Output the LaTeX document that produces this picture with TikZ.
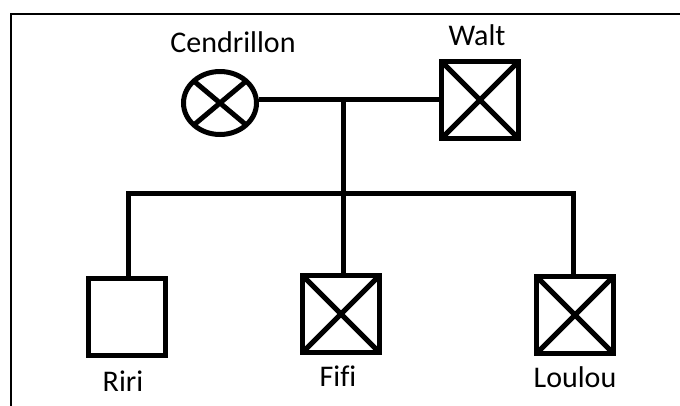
\documentclass[tikz,border=0pt]{standalone}
\usepackage{fontspec}
\setmainfont{Carlito}
\usetikzlibrary{shapes.geometric,calc}
\begin{document}
\begin{tikzpicture}[x=1pt,y=-1pt,
  person/.style={draw,line width=5pt,minimum size=77pt,inner sep=0pt,rectangle},
  affected/.style={person,path picture={\draw[line width=5pt] (path picture bounding box.north west)--(path picture bounding box.south east) (path picture bounding box.north east)--(path picture bounding box.south west);}},
  fem/.style={draw,line width=5pt,ellipse,minimum width=73pt,minimum height=63pt,inner sep=0pt,
    path picture={\draw[line width=5pt] ($(path picture bounding box.center)+(-40:60pt)$)--($(path picture bounding box.center)+(140:60pt)$) ($(path picture bounding box.center)+(40:60pt)$)--($(path picture bounding box.center)+(-140:60pt)$);}},
  lbl/.style={font=\fontsize{30}{34}\selectfont,text=black,inner sep=0pt},
  link/.style={line width=5pt}]
\useasboundingbox (0,0) rectangle (680,405);
\draw[line width=2pt] (11,14) rectangle (700,430);
\node[fem] (cen) at (220,103) {};
\node[affected] (walt) at (480,100) {};
\node[person] (riri) at (127,317) {};
\node[affected] (fifi) at (341,314) {};
\node[affected] (loulou) at (575,315) {};
\node[lbl] (tcen) at (233,42) {Cendrillon};
\node[lbl] (twalt) at (477,35) {Walt};
\node[lbl] (triri) at (123,381) {Riri};
\node[lbl] (tfifi) at (338,376) {Fif\kern0pt i};
\node[lbl] (tloulou) at (575,377) {Loulou};
\coordinate (m) at (343,99);
\coordinate (s) at (343,193);
\coordinate (sl) at (128,193);
\coordinate (sr) at (573,193);
\draw[link] (cen.east |- m) -- (walt.west |- m);
\draw[link] (m) -- (fifi.north -| m);
\draw[link,line cap=rect] (riri.north -| sl) -- (sl) -- (sr) -- (loulou.north -| sr);
\end{tikzpicture}
\end{document}
